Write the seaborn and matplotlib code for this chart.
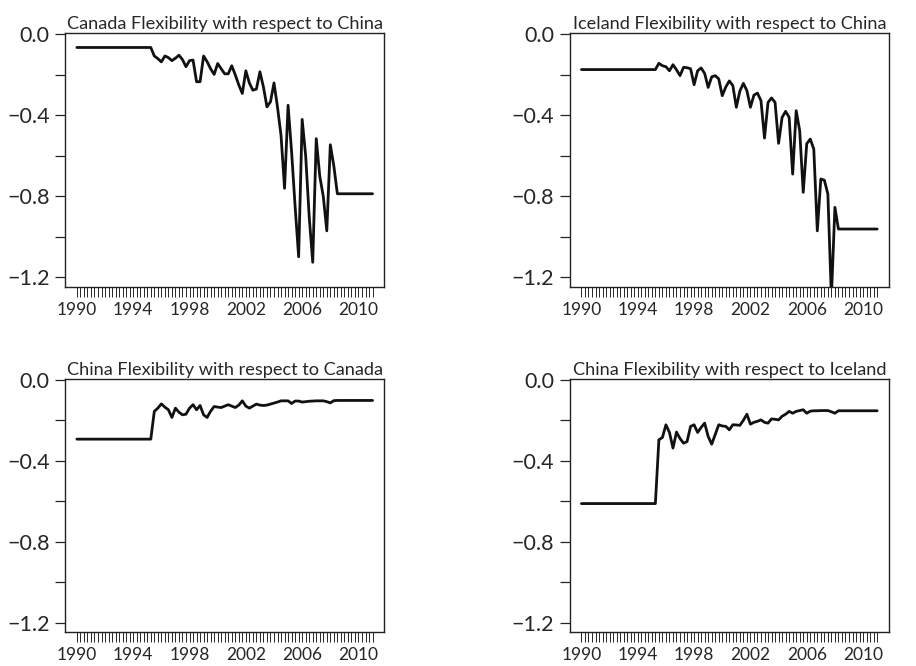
import numpy as np
import pandas as pd
import seaborn as sns
import matplotlib.pyplot as plt
from matplotlib.ticker import FixedLocator, MultipleLocator, FuncFormatter

# quarterly observations, 1990Q1 .. 2011Q1
quarters = 1990 + np.arange(85) / 4

canada_china = [
    -0.065, -0.065, -0.065, -0.065, -0.065, -0.065, -0.065, -0.065, -0.065, -0.065,
    -0.065, -0.065, -0.065, -0.065, -0.065, -0.065, -0.065, -0.065, -0.065, -0.065,
    -0.065, -0.065, -0.107, -0.120, -0.136, -0.107, -0.115, -0.130, -0.118, -0.103,
    -0.125, -0.160, -0.130, -0.127, -0.234, -0.234, -0.107, -0.135, -0.170, -0.198,
    -0.144, -0.170, -0.195, -0.195, -0.155, -0.200, -0.250, -0.292, -0.180, -0.240,
    -0.276, -0.270, -0.185, -0.260, -0.358, -0.333, -0.240, -0.360, -0.500, -0.760,
    -0.350, -0.580, -0.850, -1.098, -0.420, -0.600, -0.900, -1.125, -0.515, -0.700,
    -0.800, -0.970, -0.545, -0.650, -0.787, -0.787, -0.787, -0.787, -0.787, -0.787,
    -0.787, -0.787, -0.787, -0.787, -0.787,
]

iceland_china = [
    -0.174, -0.174, -0.174, -0.174, -0.174, -0.174, -0.174, -0.174, -0.174, -0.174,
    -0.174, -0.174, -0.174, -0.174, -0.174, -0.174, -0.174, -0.174, -0.174, -0.174,
    -0.174, -0.174, -0.143, -0.155, -0.160, -0.180, -0.150, -0.175, -0.204, -0.163,
    -0.165, -0.170, -0.249, -0.180, -0.166, -0.193, -0.262, -0.210, -0.204, -0.220,
    -0.303, -0.260, -0.230, -0.253, -0.360, -0.280, -0.242, -0.278, -0.360, -0.300,
    -0.290, -0.328, -0.512, -0.336, -0.314, -0.336, -0.538, -0.410, -0.380, -0.410,
    -0.690, -0.377, -0.476, -0.780, -0.540, -0.517, -0.566, -0.970, -0.714, -0.720,
    -0.788, -1.300, -0.854, -0.961, -0.961, -0.961, -0.961, -0.961, -0.961, -0.961,
    -0.961, -0.961, -0.961, -0.961, -0.961,
]

china_canada = [
    -0.293, -0.293, -0.293, -0.293, -0.293, -0.293, -0.293, -0.293, -0.293, -0.293,
    -0.293, -0.293, -0.293, -0.293, -0.293, -0.293, -0.293, -0.293, -0.293, -0.293,
    -0.293, -0.293, -0.156, -0.140, -0.119, -0.135, -0.148, -0.186, -0.140, -0.160,
    -0.173, -0.170, -0.140, -0.123, -0.148, -0.127, -0.173, -0.186, -0.155, -0.132,
    -0.135, -0.137, -0.130, -0.123, -0.130, -0.137, -0.125, -0.104, -0.130, -0.140,
    -0.130, -0.120, -0.125, -0.127, -0.125, -0.120, -0.115, -0.110, -0.104, -0.104,
    -0.104, -0.117, -0.105, -0.105, -0.110, -0.108, -0.106, -0.105, -0.104, -0.104,
    -0.104, -0.108, -0.114, -0.103, -0.102, -0.102, -0.102, -0.102, -0.102, -0.102,
    -0.102, -0.102, -0.102, -0.102, -0.102,
]

china_iceland = [
    -0.611, -0.611, -0.611, -0.611, -0.611, -0.611, -0.611, -0.611, -0.611, -0.611,
    -0.611, -0.611, -0.611, -0.611, -0.611, -0.611, -0.611, -0.611, -0.611, -0.611,
    -0.611, -0.611, -0.296, -0.285, -0.222, -0.260, -0.337, -0.258, -0.290, -0.313,
    -0.305, -0.230, -0.222, -0.260, -0.235, -0.214, -0.280, -0.318, -0.270, -0.222,
    -0.228, -0.230, -0.247, -0.222, -0.223, -0.225, -0.200, -0.170, -0.219, -0.210,
    -0.205, -0.198, -0.210, -0.214, -0.193, -0.195, -0.198, -0.180, -0.170, -0.156,
    -0.165, -0.156, -0.152, -0.148, -0.165, -0.155, -0.153, -0.153, -0.152, -0.152,
    -0.152, -0.158, -0.165, -0.153, -0.153, -0.153, -0.153, -0.153, -0.153, -0.153,
    -0.153, -0.153, -0.153, -0.153, -0.153,
]

titles = [
    'Canada Flexibility with respect to China',
    'Iceland Flexibility with respect to China',
    'China Flexibility with respect to Canada',
    'China Flexibility with respect to Iceland',
]
series = [canada_china, iceland_china, china_canada, china_iceland]
year_labels = [1990, 1994, 1998, 2002, 2006, 2010]
y_labels = [-1.2, -0.8, -0.4, 0.0]

sns.set_style('ticks')
plt.rcParams['font.family'] = ['Lato', 'DejaVu Sans']

fig, axes = plt.subplots(2, 2, figsize=(9.16, 6.66), dpi=100)
fig.subplots_adjust(left=0.071, right=0.9705, bottom=0.051, top=0.950,
                    wspace=0.58, hspace=0.364)

fmt = FuncFormatter(lambda v, pos: f'{v:.1f}'.replace('-', '\u2212') if abs(v) > 1e-9 else '0.0')

for ax, title, vals in zip(axes.flat, titles, series):
    df = pd.DataFrame({'time': quarters, 'value': vals})
    sns.lineplot(data=df, x='time', y='value', ax=ax, color='#111111', linewidth=2.0)
    ax.set_xlim(1990 - 0.84, 2011 + 0.84)
    ax.set_ylim(-1.245, 0.005)
    ax.set_xlabel('')
    ax.set_ylabel('')
    ax.set_title(title, fontsize=13.1, pad=3)

    ax.xaxis.set_major_locator(FixedLocator(year_labels))
    ax.xaxis.set_minor_locator(FixedLocator(quarters))
    ax.yaxis.set_major_locator(FixedLocator(y_labels))
    ax.yaxis.set_major_formatter(fmt)
    ax.yaxis.set_minor_locator(MultipleLocator(0.2))

    ax.tick_params(axis='x', which='both', length=7, width=0.7, labelsize=12.5, pad=4)
    ax.tick_params(axis='y', which='both', length=7, width=0.9, labelsize=15.5, pad=4)
    for s in ax.spines.values():
        s.set_visible(True)
        s.set_color('#222222')
        s.set_linewidth(1.0)

plt.savefig('out.png', dpi=100)
